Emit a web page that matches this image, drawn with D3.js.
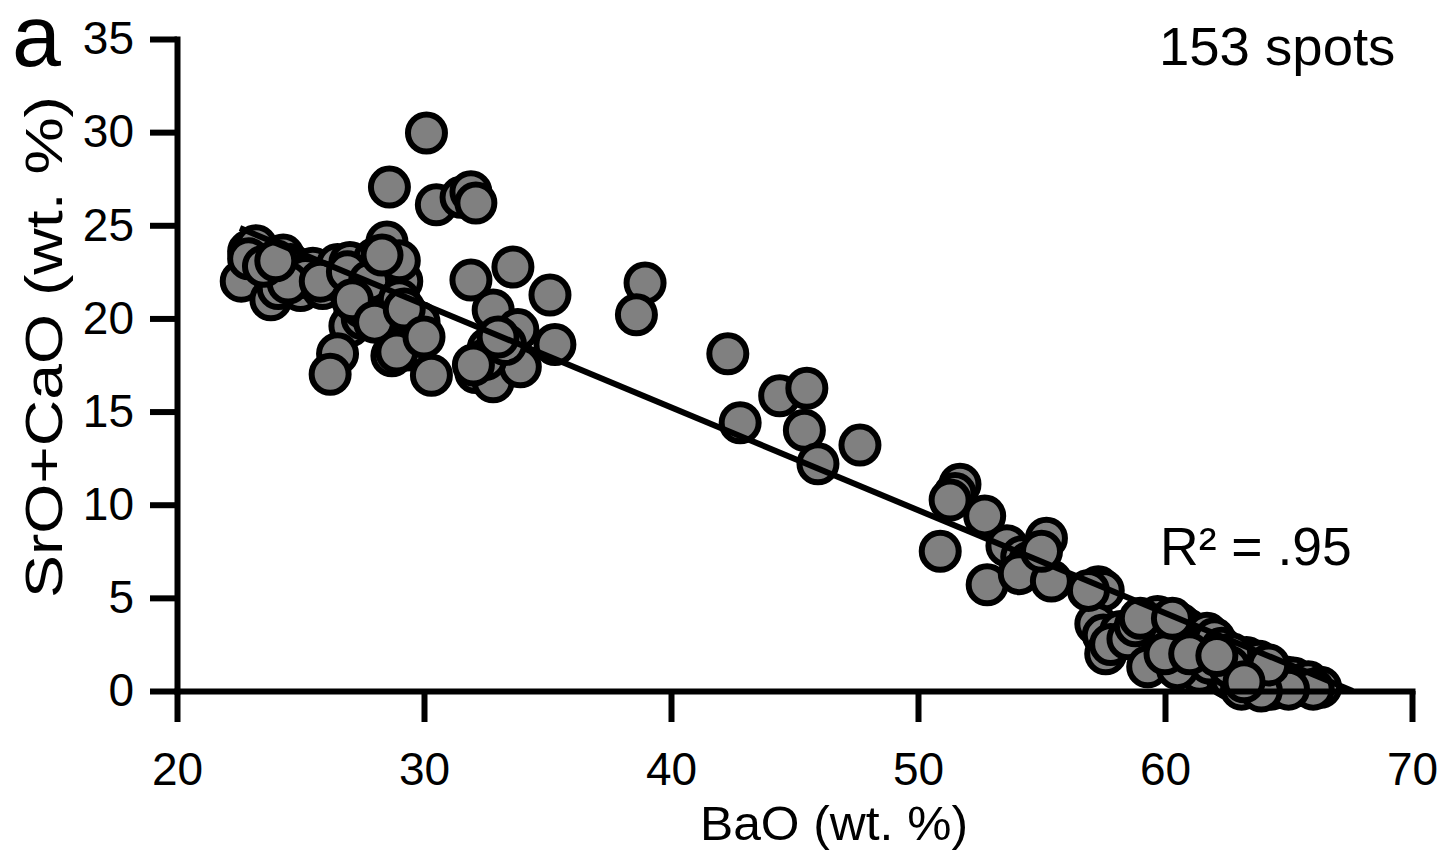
<!DOCTYPE html>
<html>
<head>
<meta charset="utf-8">
<script src="https://cdn.jsdelivr.net/npm/d3@7"></script>
<style>
  html, body { margin: 0; padding: 0; background: #fff; }
  svg { display: block; }
  text { font-family: "Liberation Sans", Arial, Helvetica, sans-serif; fill: #000; }
</style>
</head>
<body>
<svg id="chart" width="1451" height="852"></svg>
<script>
// ---- Data ----
const baO = [
  22.9, 22.6, 23.2, 23.9, 23.8, 24.1, 24.3, 24.6, 25.0, 25.5,
  25.9, 26.3, 26.5, 27.0, 27.3, 27.6, 27.2, 27.0, 27.5, 28.0,
  28.5, 28.2, 28.6, 28.8, 28.1, 29.1, 28.7, 29.4, 29.6, 29.3,
  28.7, 28.9, 26.5, 26.2, 27.5, 26.8, 25.2, 24.5, 22.9, 29.0,
  30.1, 28.6, 30.5, 31.5, 31.9, 32.1,
  30.3, 31.9, 33.6, 35.1, 32.8, 33.8, 32.6, 35.3, 32.1, 32.8,
  33.9, 32.5, 33.3, 29.8,
  38.95, 38.6, 42.3, 42.8, 44.4, 45.5, 45.4, 45.95, 47.65, 51.7,
  51.5, 51.3, 52.7, 50.9, 53.6, 55.2, 54.2, 54.5, 52.8, 54.1,
  55.4, 55.0,
  57.3, 57.5, 57.2, 57.5, 58.2, 57.6, 57.8, 58.5, 59.3, 59.7,
  59.9, 60.2, 60.6, 60.9, 61.2, 61.7, 61.5, 62.0, 62.3, 61.4,
  60.5, 60.0, 62.5, 62.7, 63.0, 63.3, 63.5, 63.8, 64.0, 64.1,
  63.4, 63.7, 64.4, 64.6, 64.9, 65.2, 65.5, 65.8, 66.3, 66.0,
  63.1, 64.3, 62.9, 61.8, 58.8, 59.0, 60.3, 62.7, 63.6, 64.8,
  65.0, 63.9, 62.6,
  23.5, 24.0, 25.8, 26.9, 27.8, 28.3, 29.0, 27.1, 28.0, 29.2,
  30.0, 32.0, 33.0, 56.9, 61.0, 62.1, 64.2, 63.2
];
const srOCaO = [
  23.6, 22.0, 23.9, 22.3, 21.0, 21.6, 23.4, 22.9, 21.5, 22.7,
  21.6, 22.1, 22.9, 23.0, 22.4, 21.5, 20.3, 19.6, 20.0, 23.2,
  24.1, 22.4, 21.2, 22.3, 20.9, 22.0, 20.8, 20.1, 19.3, 18.3,
  18.0, 18.2, 18.1, 17.0, 20.6, 21.8, 22.2, 21.9, 23.2, 23.1,
  29.95, 27.05, 26.1, 26.5, 26.8, 26.2,
  16.95, 22.06, 22.76, 21.26, 20.45, 19.4, 18.4, 18.6, 17.1, 16.6,
  17.4, 17.8, 18.6, 19.8,
  21.9, 20.2, 18.1, 14.4, 15.85, 16.25, 14.0, 12.2, 13.2, 11.1,
  10.6, 10.25, 9.4, 7.5, 7.8, 8.2, 7.2, 6.9, 5.7, 6.3,
  5.9, 7.5,
  5.6, 5.4, 3.6, 3.0, 3.2, 2.0, 2.5, 2.8, 1.3, 4.0,
  3.6, 2.9, 3.6, 3.3, 3.0, 3.1, 2.4, 2.8, 2.3, 1.0,
  1.2, 2.0, 0.75, 0.6, 1.6, 1.8, 1.2, 1.6, 1.0, 0.3,
  0.2, 0.5, 0.9, 0.4, 0.75, 0.7, 0.3, 0.5, 0.2, 0.1,
  0.1, 0.1, 1.0, 1.5, 3.5, 3.9, 3.9, 2.0, 0.8, 0.2,
  0.1, 0.0, 1.3,
  22.8, 23.1, 22.0, 22.5, 22.0, 23.4, 21.0, 21.0, 19.8, 20.5,
  19.0, 17.5, 19.0, 5.4, 2.0, 1.9, 1.4, 0.5
];
const xTicks = [20, 30, 40, 50, 60, 70];
const yTicks = [0, 5, 10, 15, 20, 25, 30, 35];
const fitLine = [[22.55, 24.85], [67.6, 0.0]];   // linear trend, R² = .95
const labels = { panel: "a", spots: "153 spots", r2: "R² = .95",
                 xTitle: "BaO (wt. %)", yTitle: "SrO+CaO (wt. %)" };

// ---- Chart ----
const svg = d3.select("#chart");
const x = d3.scaleLinear().domain([20, 70]).range([177, 1412]);
const y = d3.scaleLinear().domain([0, 35]).range([691, 39]);

const points = baO.map((b, i) => ({ x: b, y: srOCaO[i] }));

// points
svg.append("g").selectAll("circle").data(points).join("circle")
  .attr("cx", d => x(d.x)).attr("cy", d => y(d.y)).attr("r", 18.5)
  .attr("fill", "#808080").attr("stroke", "#000").attr("stroke-width", 6);

// trend line
svg.append("path")
  .attr("d", d3.line().x(d => x(d[0])).y(d => y(d[1]))(fitLine))
  .attr("fill", "none").attr("stroke", "#000").attr("stroke-width", 6);

// axes
const xAxis = svg.append("g").attr("transform", "translate(0,691)")
  .call(d3.axisBottom(x).tickValues(xTicks).tickSize(31).tickSizeOuter(0).tickPadding(30));
const yAxis = svg.append("g").attr("transform", "translate(177,0)")
  .call(d3.axisLeft(y).tickValues(yTicks).tickSize(27).tickSizeOuter(0).tickPadding(16));

[xAxis, yAxis].forEach(g => {
  g.select(".domain").attr("stroke", "#000").attr("stroke-width", 6).attr("stroke-linecap", "square");
  g.selectAll(".tick line").attr("stroke", "#000").attr("stroke-width", 6);
  g.selectAll(".tick text").attr("font-family", "Liberation Sans, Arial, sans-serif")
    .attr("font-size", 46).attr("fill", "#000");
});

// texts
svg.append("text").attr("x", 12).attr("y", 66).attr("font-size", 88).text(labels.panel);
svg.append("text").attr("x", 1159).attr("y", 65).attr("font-size", 54.5).text(labels.spots);
svg.append("text").attr("x", 1160).attr("y", 565).attr("font-size", 53.5).text(labels.r2);
svg.append("text").attr("x", 834).attr("y", 840).attr("text-anchor", "middle")
  .attr("font-size", 48).attr("textLength", 268).attr("lengthAdjust", "spacingAndGlyphs")
  .text(labels.xTitle);
svg.append("text").attr("transform", "translate(62,347) rotate(-90)")
  .attr("text-anchor", "middle").attr("font-size", 51)
  .attr("textLength", 502).attr("lengthAdjust", "spacingAndGlyphs").text(labels.yTitle);
</script>
</body>
</html>
